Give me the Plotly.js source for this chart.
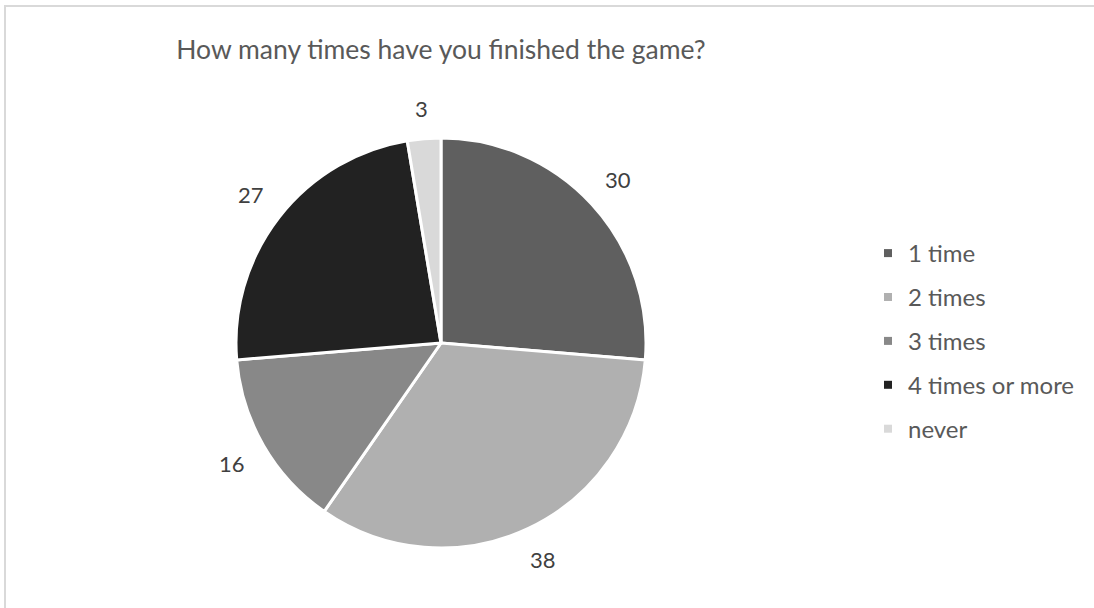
<!DOCTYPE html>
<html><head><meta charset="utf-8">
<script src="https://cdn.plot.ly/plotly-3.0.1.min.js"></script>
<style>
html,body{margin:0;padding:0;background:#fff;overflow:hidden;}
#frame{position:absolute;left:4px;top:5px;width:1090px;height:603px;border-top:2px solid #d9d9d9;border-left:2px solid #d9d9d9;box-sizing:border-box;}
#chart{position:absolute;left:0;top:0;width:1094px;height:608px;}
</style></head>
<body>
<div id="frame"></div>
<div id="chart"></div>
<script>
const categories = ["1 time", "2 times", "3 times", "4 times or more", "never"];
const counts = [30, 38, 16, 27, 3];
const colors = ["#5f5f5f", "#b0b0b0", "#888888", "#222222", "#d9d9d9"];
const titleText = "How many times have you finished the game?";

const W = 1094, H = 608;
const cx = 441, cy = 343, R = 205;
const labelGap = 19, labelFont = 22;

const traces = [{
  type: "pie",
  labels: categories,
  values: counts,
  sort: false,
  direction: "clockwise",
  rotation: 0,
  marker: {colors: colors, line: {color: "#ffffff", width: 3}},
  textinfo: "none",
  showlegend: false,
  hoverinfo: "label+value",
  domain: {x: [(cx - R) / W, (cx + R) / W], y: [1 - (cy + R) / H, 1 - (cy - R) / H]}
}];
categories.forEach((c, i) => {
  traces.push({
    type: "scatter", mode: "markers", x: [null], y: [null],
    name: c, legendgroup: "g" + i,
    marker: {symbol: "square", size: 8, color: colors[i]},
    hoverinfo: "skip"
  });
});

// value labels placed outside each slice at the slice's mid-angle,
// with the text box kept a fixed gap away from the rim
const total = counts.reduce((a, b) => a + b, 0);
let cum = 0;
const annotations = counts.map(v => {
  const th = (cum + v / 2) / total * 2 * Math.PI;
  cum += v;
  const dx = Math.sin(th), dy = -Math.cos(th);
  const hw = String(v).length * labelFont * 0.3, hh = labelFont * 0.5;
  const r = R + labelGap + Math.abs(dx) * hw + Math.abs(dy) * hh;
  const px = cx + r * dx;
  const py = cy + r * dy;
  return {
    text: String(v), showarrow: false,
    xref: "paper", yref: "paper", x: px / W, y: 1 - py / H,
    xanchor: "center", yanchor: "middle",
    font: {family: "Lato, sans-serif", size: labelFont, color: "#404040"}
  };
});

const layout = {
  width: W, height: H,
  margin: {l: 0, r: 0, t: 0, b: 0},
  paper_bgcolor: "rgba(0,0,0,0)",
  plot_bgcolor: "rgba(0,0,0,0)",
  font: {family: "Lato, sans-serif", color: "#595959"},
  title: {text: titleText, x: cx / W, xanchor: "center", xref: "paper",
          y: 1 - 50 / H, yanchor: "middle", yref: "paper",
          font: {family: "Lato, sans-serif", size: 26.5, color: "#595959"}},
  xaxis: {visible: false},
  yaxis: {visible: false},
  annotations: annotations,
  showlegend: true,
  legend: {x: 868 / W, xanchor: "left", y: 1 - 231 / H, yanchor: "top",
           font: {family: "Lato, sans-serif", size: 24, color: "#595959"},
           tracegroupgap: 9.7, bgcolor: "rgba(0,0,0,0)"}
};
Plotly.newPlot("chart", traces, layout, {displayModeBar: false, staticPlot: true});
</script>
</body></html>
